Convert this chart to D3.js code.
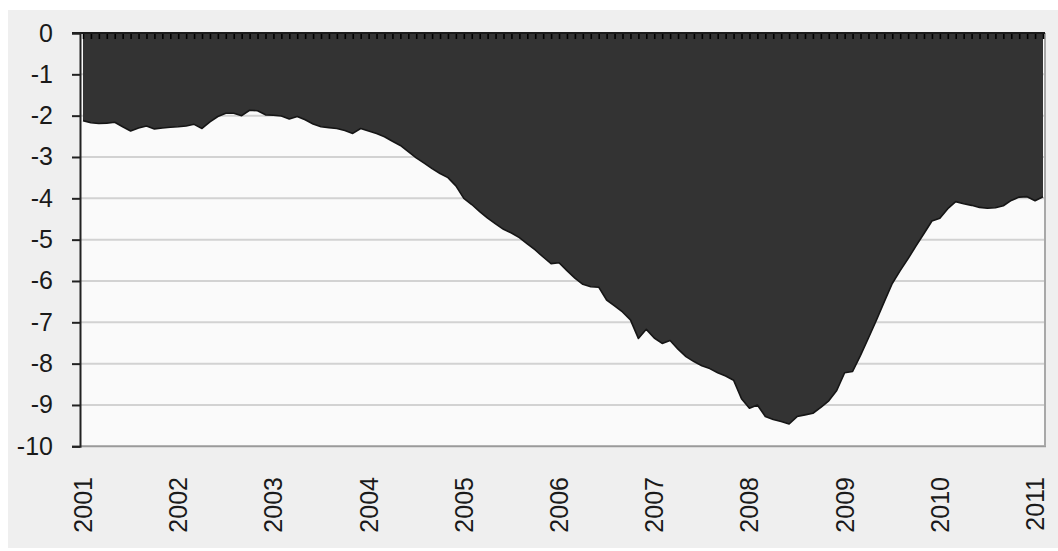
<!DOCTYPE html>
<html>
<head>
<meta charset="utf-8">
<script src="https://cdn.jsdelivr.net/npm/d3@7"></script>
<style>
  html, body { margin: 0; padding: 0; background: #ffffff; }
  svg { display: block; }
</style>
</head>
<body>
<svg id="chart" width="1058" height="551"></svg>
<script>
// ---- data (monthly, Jan 2001 .. Feb 2011) ----
const values = [
  -2.12, -2.17, -2.19, -2.18, -2.16, -2.27, -2.37, -2.30, -2.25, -2.32, -2.30, -2.28,
  -2.27, -2.25, -2.21, -2.31, -2.15, -2.02, -1.94, -1.94, -2.00, -1.87, -1.88, -1.98,
  -1.99, -2.01, -2.08, -2.02, -2.10, -2.20, -2.27, -2.29, -2.31, -2.36, -2.43, -2.31,
  -2.37, -2.43, -2.51, -2.62, -2.72, -2.87, -3.02, -3.15, -3.28, -3.40, -3.50, -3.70,
  -4.00, -4.15, -4.32, -4.48, -4.62, -4.75, -4.84, -4.95, -5.10, -5.25, -5.42, -5.58,
  -5.56, -5.75, -5.93, -6.08, -6.14, -6.15, -6.46, -6.60, -6.75, -6.94, -7.39, -7.17,
  -7.38, -7.51, -7.44, -7.65, -7.83, -7.95, -8.05, -8.12, -8.22, -8.30, -8.40, -8.85,
  -9.08, -9.00, -9.28, -9.35, -9.40, -9.46, -9.28, -9.24, -9.20, -9.06, -8.90, -8.65,
  -8.22, -8.19, -7.80, -7.38, -6.95, -6.50, -6.06, -5.75, -5.46, -5.15, -4.85, -4.55,
  -4.48, -4.25, -4.08, -4.13, -4.17, -4.22, -4.24, -4.23, -4.18, -4.05, -3.97, -3.96,
  -4.06, -3.96
];
const yearLabels = ["2001","2002","2003","2004","2005","2006","2007","2008","2009","2010","2011"];
const yTicks = [0, -1, -2, -3, -4, -5, -6, -7, -8, -9, -10];
const months = values.map((v, i) => {
  const yr = 2001 + Math.floor(i / 12);
  const m = (i % 12) + 1;
  return yr + "-" + (m < 10 ? "0" + m : m);
});

// ---- layout ----
const svg = d3.select("#chart");
const plot = { left: 80, right: 1045, top: 33, bottom: 446.3 };

const x = d3.scalePoint().domain(months).range([83, 1043]).padding(0);
const y = d3.scaleLinear().domain([0, -10]).range([plot.top, plot.bottom]);

// outer background
svg.append("rect").attr("x", 8).attr("y", 10).attr("width", 1050).attr("height", 538)
  .attr("fill", "#efefef");

// plot background
svg.append("rect").attr("x", plot.left).attr("y", plot.top)
  .attr("width", plot.right - plot.left).attr("height", plot.bottom - plot.top)
  .attr("fill", "#fafafa");

// gridlines
svg.append("g").selectAll("line").data(yTicks.filter(t => t !== 0 && t !== -10)).join("line")
  .attr("x1", plot.left).attr("x2", plot.right)
  .attr("y1", d => y(d)).attr("y2", d => y(d))
  .attr("stroke", "#d2d2d2").attr("stroke-width", 2);

// area
const area = d3.area()
  .x((d, i) => x(months[i]))
  .y0(y(0))
  .y1(d => y(d));
svg.append("path").datum(values).attr("d", area).attr("fill", "#333333");

const line = d3.line().x((d, i) => x(months[i])).y(d => y(d));
svg.append("path").datum(values).attr("d", line)
  .attr("fill", "none").attr("stroke", "#151515").attr("stroke-width", 1.6)
  .attr("stroke-linejoin", "round");

// borders (bottom, right)
svg.append("line").attr("x1", plot.left).attr("x2", plot.right + 1)
  .attr("y1", plot.bottom).attr("y2", plot.bottom)
  .attr("stroke", "#9a9a9a").attr("stroke-width", 2);
svg.append("line").attr("x1", plot.right).attr("x2", plot.right)
  .attr("y1", plot.top).attr("y2", plot.bottom)
  .attr("stroke", "#a8a8a8").attr("stroke-width", 2);

// category axis along the zero line (ticks pointing down)
const xAxis = d3.axisBottom(x).tickSize(6).tickFormat("");
const gx = svg.append("g").attr("transform", `translate(0,${plot.top})`).call(xAxis);
gx.select(".domain").remove();
gx.selectAll(".tick line").attr("stroke", "#000").attr("stroke-width", 1.6);
svg.append("line").attr("x1", 72).attr("x2", plot.right)
  .attr("y1", plot.top).attr("y2", plot.top)
  .attr("stroke", "#1a1a1a").attr("stroke-width", 2);

// value axis
const yAxis = d3.axisLeft(y).tickValues(yTicks).tickSize(8).tickPadding(19)
  .tickFormat(d => String(d));
const gy = svg.append("g").attr("transform", `translate(${plot.left},0)`).call(yAxis);
gy.select(".domain").attr("stroke", "#222").attr("stroke-width", 2);
gy.selectAll(".tick line").attr("stroke", "#222").attr("stroke-width", 2);
gy.selectAll("text")
  .attr("font-family", "Liberation Sans, Arial, sans-serif")
  .attr("font-size", 25).attr("fill", "#1a1a1a");

// year labels (rotated)
svg.append("g").selectAll("text").data(yearLabels).join("text")
  .attr("transform", (d, k) => `translate(${x(months[Math.min(k * 12, months.length - 1)])},477) rotate(-90)`)
  .attr("text-anchor", "end")
  .attr("dominant-baseline", "central")
  .attr("font-family", "Liberation Sans, Arial, sans-serif")
  .attr("font-size", 25).attr("fill", "#1a1a1a")
  .text(d => d);
</script>
</body>
</html>
